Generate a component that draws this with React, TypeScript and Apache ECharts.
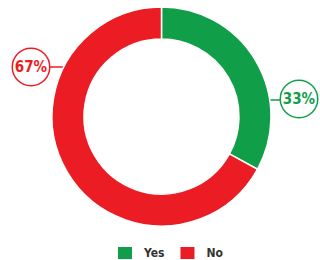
import React, { useEffect, useRef } from "react";
import * as echarts from "echarts";

const categories = ["Yes", "No"];
const values = [33, 67];
const colors = ["#119e48", "#ec1c24"];

const labelPos = [
  { x: 299, y: 99, line: [[270, 100], [275, 100], [280, 100]] },
  { x: 31, y: 67, line: [[64, 67], [57, 67], [50, 67]] },
];

const FONT = "'DejaVu Sans Condensed', 'Liberation Sans Narrow', sans-serif";

export default function App() {
  const ref = useRef<HTMLDivElement>(null);
  useEffect(() => {
    document.body.style.margin = "0";
    const chart = echarts.init(ref.current!, null, { renderer: "svg" });
    chart.setOption({
      animation: false,
      legend: {
        data: categories,
        top: 245,
        left: 116,
        padding: 0,
        itemWidth: 16,
        itemHeight: 14,
        itemGap: 14,
        icon: "rect",
        textStyle: {
          color: "#333",
          fontSize: 12,
          fontWeight: "bold",
          fontFamily: FONT,
          padding: [0, 0, 0, 6],
        },
      },
      series: [
        {
          type: "pie",
          center: [161.5, 116.5],
          radius: [77.5, 109.5],
          startAngle: 90,
          clockwise: true,
          percentPrecision: 0,
          itemStyle: { borderColor: "#fff", borderWidth: 1.5 },
          label: {
            show: true,
            position: "outside",
            formatter: "{d}%",
            fontSize: 15,
            fontWeight: "bold",
            fontFamily: FONT,
            backgroundColor: "#fff",
            borderWidth: 1.5,
            borderRadius: 19,
            width: 36,
            height: 36,
            lineHeight: 36,
            overflow: "none",
            align: "center",
            padding: 0,
          },
          labelLine: { show: true, length: 5, length2: 5, lineStyle: { width: 1.5 } },
          labelLayout: (params: any) => {
            const p = labelPos[params.dataIndex];
            return {
              x: p.x,
              y: p.y,
              align: "center",
              verticalAlign: "middle",
              labelLinePoints: p.line,
            };
          },
          data: categories.map((c, i) => ({
            name: c,
            value: values[i],
            itemStyle: { color: colors[i] },
            label: { color: colors[i], borderColor: colors[i] },
          })),
        },
      ],
    });
    return () => chart.dispose();
  }, []);
  return <div ref={ref} style={{ width: 320, height: 260 }} />;
}
